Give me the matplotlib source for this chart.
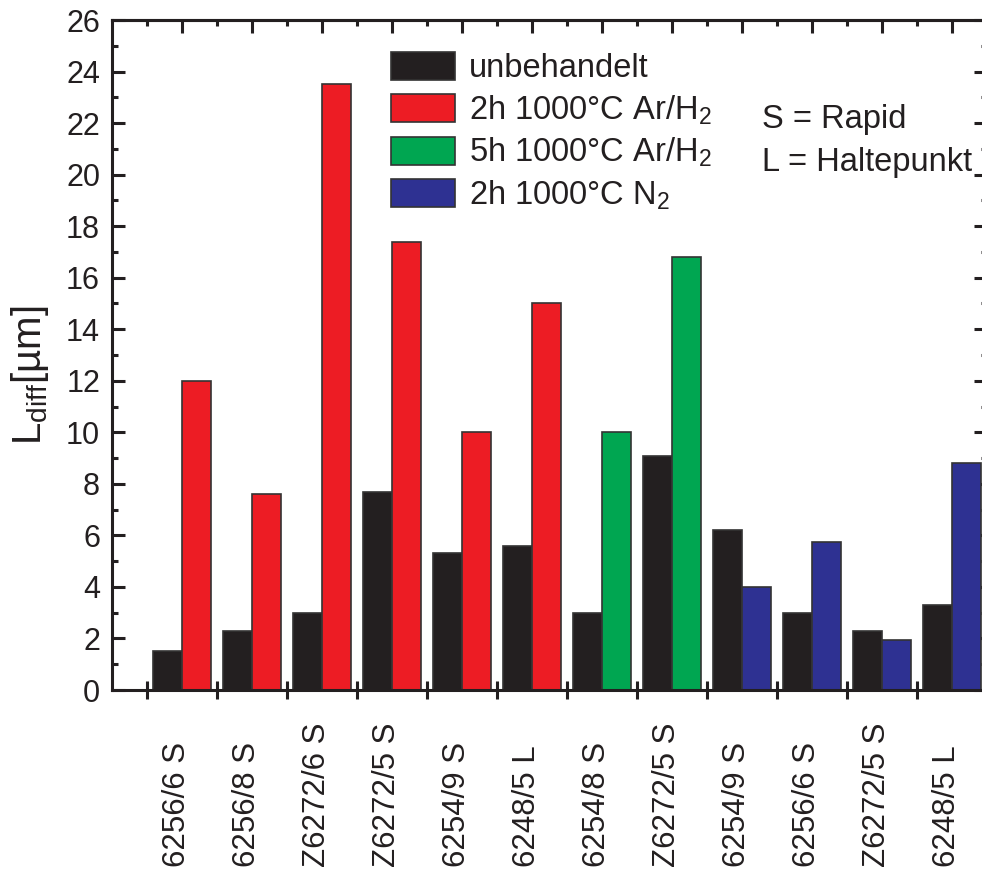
import matplotlib
matplotlib.use("Agg")
import matplotlib.pyplot as plt
import matplotlib.transforms as mtransforms
import numpy as np
from matplotlib.ticker import FixedLocator, MultipleLocator, NullFormatter

plt.rcParams["font.family"] = ["Liberation Sans", "DejaVu Sans"]
plt.rcParams["mathtext.fontset"] = "custom"
plt.rcParams["mathtext.rm"] = "Liberation Sans"
plt.rcParams["mathtext.it"] = "Liberation Sans:italic"
plt.rcParams["mathtext.bf"] = "Liberation Sans:bold"

# Samples (x categories)
samples = ["6256/6 S", "6256/8 S", "Z6272/6 S", "Z6272/5 S", "6254/9 S", "6248/5 L",
           "6254/8 S", "Z6272/5 S", "6254/9 S", "6256/6 S", "Z6272/5 S", "6248/5 L"]

# Diffusion length L_diff in µm
untreated = [1.5, 2.3, 3.0, 7.7, 5.3, 5.6, 3.0, 9.1, 6.2, 3.0, 2.3, 3.3]
ar_h2_2h = [12.0, 7.6, 23.5, 17.4, 10.0, 15.0]          # samples 1-6
ar_h2_5h = [10.0, 16.8]                                 # samples 7-8
n2_2h = [4.0, 5.75, 1.95, 8.8]                          # samples 9-12

series_labels = ["unbehandelt", r"2h 1000°C Ar/H$_2$", r"5h 1000°C Ar/H$_2$", r"2h 1000°C N$_2$"]
colors = ["#231f20", "#ed1c24", "#00a651", "#2e3192"]
edge = "#333333"
ink = "#231f20"

W, H = 982, 872
fig = plt.figure(figsize=(W / 100, H / 100), dpi=100)
# axes frame: right spine lies just outside the canvas
ax = fig.add_axes([112 / W, (H - 690) / H, 875 / W, 670 / H])

x = np.arange(1, len(samples) + 1)
wb, wc = 0.42, 0.41

ax.bar(x, untreated, width=-wb, align="edge", color=colors[0], edgecolor=edge,
       linewidth=1.2, label=series_labels[0], zorder=2)
ax.bar(x[0:6], ar_h2_2h, width=wc, align="edge", color=colors[1], edgecolor=edge,
       linewidth=1.2, label=series_labels[1], zorder=2)
ax.bar(x[6:8], ar_h2_5h, width=wc, align="edge", color=colors[2], edgecolor=edge,
       linewidth=1.2, label=series_labels[2], zorder=2)
ax.bar(x[8:12], n2_2h, width=wc, align="edge", color=colors[3], edgecolor=edge,
       linewidth=1.2, label=series_labels[3], zorder=2)

ax.set_xlim(0, 12.5)
ax.set_ylim(0, 26)

lw = 2.2
for s in ax.spines.values():
    s.set_linewidth(lw)
    s.set_color(ink)

# y axis: labelled majors every 2, minors every 1, ticks on both sides
ax.yaxis.set_major_locator(MultipleLocator(2))
ax.yaxis.set_minor_locator(MultipleLocator(1))
ax.tick_params(axis="y", which="major", direction="in", length=9.4, width=lw,
               labelsize=22, pad=8.6, right=True, left=True, colors=ink)
ax.tick_params(axis="y", which="minor", direction="in", length=4.6, width=lw,
               right=True, left=True, colors=ink)

# x axis: labels at sample centres (reading upward from a common base line),
# crossing ticks at group boundaries
ax.xaxis.set_major_locator(FixedLocator(x))
ax.set_xticklabels(samples, rotation=90, va="bottom", ha="center", fontsize=22.5)
ax.xaxis.set_minor_locator(FixedLocator(np.arange(0.5, 12.6, 1.0)))
ax.tick_params(axis="x", which="major", length=0, pad=(867 - 690) * 0.72,
               top=False, colors=ink)
ax.tick_params(axis="x", which="minor", direction="inout", length=13, width=lw,
               top=False, colors=ink)
shift = mtransforms.ScaledTranslation(-5 / 100, 0, fig.dpi_scale_trans)
for lbl in ax.get_xticklabels():
    lbl.set_transform(lbl.get_transform() + shift)

# top axis: long ticks at centres, short ticks at boundaries
top = ax.secondary_xaxis("top")
top.xaxis.set_major_locator(FixedLocator(x))
top.xaxis.set_minor_locator(FixedLocator(np.arange(0.5, 12.6, 1.0)))
top.xaxis.set_major_formatter(NullFormatter())
top.tick_params(which="major", direction="in", length=9.4, width=lw, colors=ink)
top.tick_params(which="minor", direction="in", length=4.6, width=lw, colors=ink)
top.spines["top"].set_linewidth(lw)

ax.set_ylabel(r"L$_\mathrm{diff}$[µm]", fontsize=29, color=ink)
ax.yaxis.set_label_coords((51 - 112) / 875, (690 - 375) / 670)

leg = ax.legend(loc="upper left", bbox_to_anchor=(391 / W, 1 - 52 / H),
                bbox_transform=fig.transFigure, frameon=False, fontsize=23.5,
                handlelength=1.95, handleheight=0.94, handletextpad=0.45,
                labelspacing=0.28, borderpad=0, borderaxespad=0)
for t in leg.get_texts():
    t.set_color(ink)

fig.text(762 / W, 1 - 128 / H, "S = Rapid", fontsize=23.5, color=ink, va="baseline")
fig.text(762 / W, 1 - 171 / H, "L = Haltepunkt", fontsize=23.5, color=ink, va="baseline")

fig.savefig("out.png", dpi=100)
